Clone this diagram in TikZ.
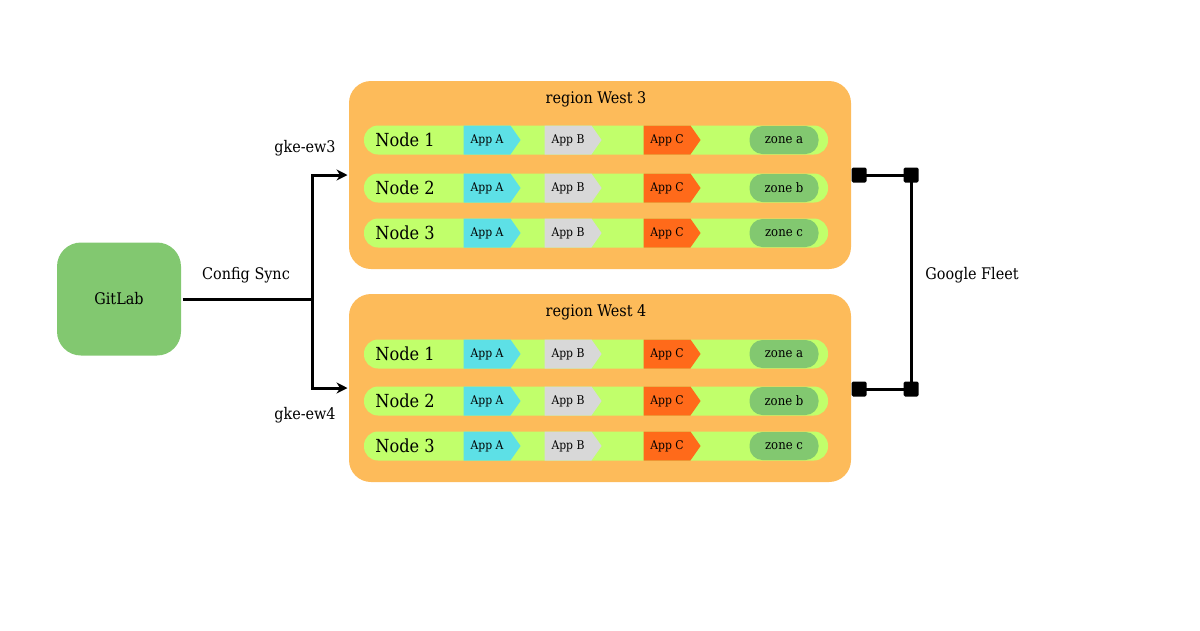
\documentclass[tikz,border=0pt]{standalone}
\usepackage{fontspec}
\setmainfont{DejaVu Serif Condensed}
\usetikzlibrary{shapes.symbols,arrows.meta,positioning}
\definecolor{gitgreen}{HTML}{82C870}
\definecolor{regionorange}{HTML}{FDBB5A}
\definecolor{rowgreen}{HTML}{C1FF6B}
\definecolor{appcyan}{HTML}{5DE0E6}
\definecolor{appgrey}{HTML}{D8D8D8}
\definecolor{appred}{HTML}{FF6A1A}

\tikzstyle{region} = [fill=regionorange, rounded corners=22pt, minimum width=502pt, minimum height=188pt]
\tikzstyle{row} = [fill=rowgreen, rounded corners=14pt, minimum width=464pt, minimum height=29pt]
\tikzstyle{app} = [signal, signal to=east, signal pointer angle=110, minimum width=57pt, minimum height=29pt, inner sep=1pt, font=\fontsize{12}{12}\selectfont]
\tikzstyle{zone} = [fill=gitgreen, rounded corners=13pt, minimum width=69pt, minimum height=28pt, font=\fontsize{13}{13}\selectfont]
\tikzstyle{pin} = [fill=black, rounded corners=1.5pt, minimum size=15pt, inner sep=0pt]
\tikzstyle{lbl} = [font=\fontsize{16}{16}\selectfont]

\begin{document}
\begin{tikzpicture}[x=1pt, y=-1pt, line width=3pt]
\useasboundingbox (0,0) rectangle (1200,630);
\node[fill=gitgreen, rounded corners=24pt, minimum width=124pt, minimum height=113pt, lbl] (gitlab) at (119,299) {GitLab};

% regions
\foreach \reg/\y/\num in {ew3/175/3, ew4/388/4} {
    \node[region] (\reg) at (600,\y) {};
    \node[lbl] at (596,\y-76) {region West \num};
}
% node rows
\foreach \reg/\y in {ew3/140, ew3/188, ew3/233, ew4/354, ew4/401, ew4/446} {
    \node[row] at (596,\y) {};
}
\foreach \y/\n/\z in {140/1/a, 188/2/b, 233/3/c, 354/1/a, 401/2/b, 446/3/c} {
    \node[font=\fontsize{18}{18}\selectfont] at (405,\y) {Node \n};
    \node[app, fill=appcyan] at (487,\y) {App A};
    \node[app, fill=appgrey] at (568,\y) {App B};
    \node[app, fill=appred] at (667,\y) {App C};
    \node[zone] at (784,\y) {zone \z};
}

% config sync
\coordinate (split) at (312,299);
\draw (gitlab.east) -- (split);
\draw[-{Stealth[length=11pt,width=11pt]}] (split) |- (ew3.west);
\draw[-{Stealth[length=11pt,width=11pt]}] (split) |- (ew4.west);
\node[lbl] at (246,275) {Config Sync};
\node[lbl] at (305,148) {gke-ew3};
\node[lbl] at (305,415) {gke-ew4};

% google fleet
\node[pin] (p1) at (859,175) {};
\node[pin] (p2) at (911,175) {};
\node[pin] (p3) at (859,389) {};
\node[pin] (p4) at (911,389) {};
\draw (p1.center) -- (p2.center) -- (p4.center) -- (p3.center);
\node[lbl] at (972,275) {Google Fleet};
\end{tikzpicture}
\end{document}
